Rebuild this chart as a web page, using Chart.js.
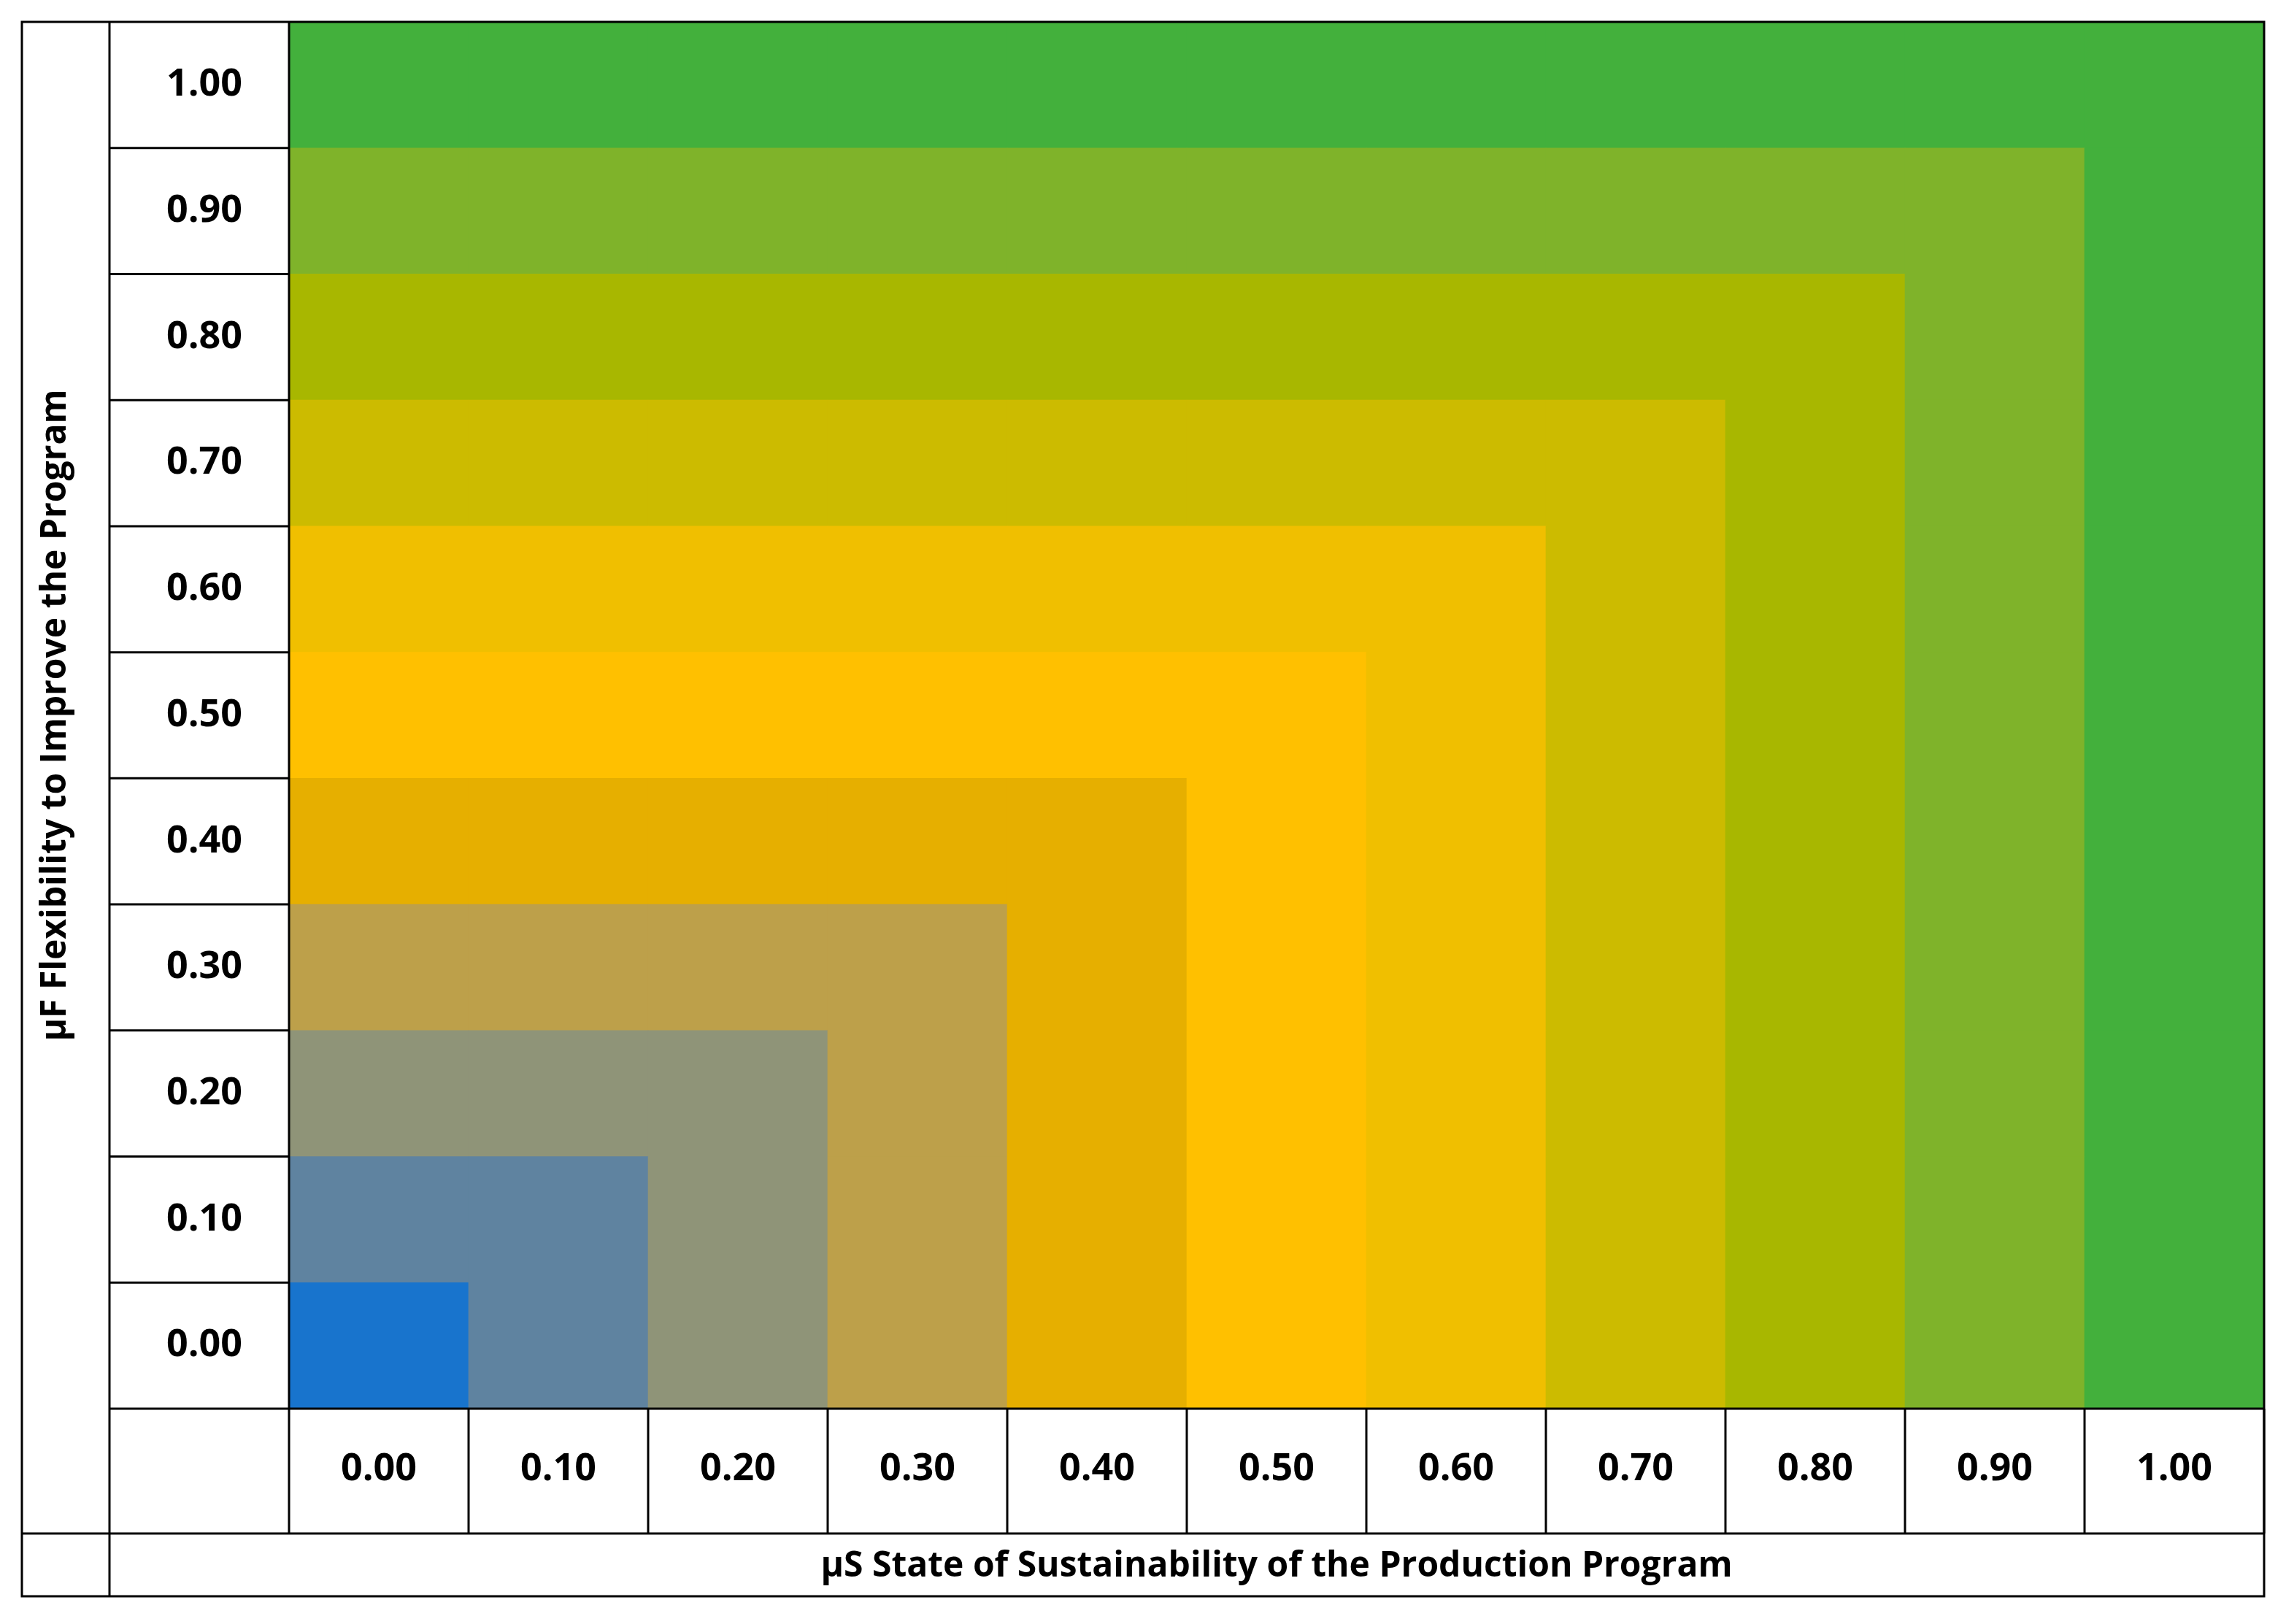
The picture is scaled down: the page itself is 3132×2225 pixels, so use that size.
<!DOCTYPE html>
<html><head><meta charset="utf-8">
<script src="https://cdn.jsdelivr.net/npm/chart.js@4"></script>
<style>html,body{margin:0;background:#fff}#c{display:block}</style>
</head><body>
<div style="width:3132px;height:2225px"><canvas id="c"></canvas></div>
<script>
// categories / ticks
const xLabels = ['0.00','0.10','0.20','0.30','0.40','0.50','0.60','0.70','0.80','0.90','1.00']
const yLabels = ['0.00','0.10','0.20','0.30','0.40','0.50','0.60','0.70','0.80','0.90','1.00']
// one colour per level = max(column, row)
const levelColors = ['#1874CD','#5F83A0','#8F9478','#BDA04A','#E6AF00','#FFC000','#F0BF00','#CCBB00','#A8B700','#7FB32A','#43B03C']
const cellHeight = [1,1,1,1,1,1,1,1,1,1,1]

const L = 30, R = 3102, T = 30, B = 2187, TITLE_W = 120, XROW = 171

const datasets = yLabels.map((y, r) => ({
	label: y,
	data: cellHeight.slice(),
	backgroundColor: xLabels.map((x, c) => levelColors[Math.max(r, c)]),
	borderWidth: 0,
	categoryPercentage: 1,
	barPercentage: 1
}))

const tableLines = {
	id: 'tableLines',
	afterDraw(chart) {
		const ctx = chart.ctx, a = chart.chartArea
		const ys = chart.scales.y
		const colLeft = L + TITLE_W
		ctx.save()
		ctx.strokeStyle = '#000'
		ctx.lineWidth = 3
		const line = (x1, y1, x2, y2) => { ctx.beginPath(); ctx.moveTo(x1, y1); ctx.lineTo(x2, y2); ctx.stroke() }
		ctx.strokeRect(L, T, R - L, B - T)
		line(colLeft, T, colLeft, B)
		line(a.left, T, a.left, a.bottom + XROW)
		line(colLeft, a.bottom, R, a.bottom)
		line(L, a.bottom + XROW, R, a.bottom + XROW)
		for (let k = 1; k < yLabels.length; k++) {
			const y = ys.getPixelForValue(k)
			line(colLeft, y, a.left, y)
		}
		for (let k = 1; k <= xLabels.length; k++) {
			const x = a.left + (a.right - a.left) * k / xLabels.length
			line(x, a.bottom, x, a.bottom + XROW)
		}
		ctx.restore()
	}
}

new Chart(document.getElementById('c').getContext('2d'), {
	type: 'bar',
	data: { labels: xLabels, datasets: datasets },
	options: {
		responsive: true,
		maintainAspectRatio: false,
		animation: false,
		layout: { padding: { left: L, top: T, right: 3132 - R, bottom: 2225 - B } },
		plugins: { legend: { display: false }, tooltip: { enabled: false } },
		scales: {
			x: {
				stacked: true,
				grid: { display: false, drawTicks: false },
				border: { display: false },
				ticks: { color: '#000', font: { family: '"Open Sans", sans-serif', size: 52, weight: 'bold' }, padding: 52, maxRotation: 0 },
				title: { display: true, text: 'µS State of Sustainability of the Production Program', color: '#000',
					font: { family: '"Open Sans", sans-serif', size: 48, weight: 'bold' }, padding: { top: 0, bottom: 12 } },
				afterFit: s => { s.height = B - T - 1900; s.paddingLeft = 0; s.paddingRight = 0 }
			},
			y: {
				stacked: true,
				min: 0, max: 11,
				grid: { display: false, drawTicks: false },
				border: { display: false },
				afterBuildTicks: s => { s.ticks = yLabels.map((l, i) => ({ value: i + 0.5 })) },
				ticks: { color: '#000', font: { family: '"Open Sans", sans-serif', size: 52, weight: 'bold' }, padding: 64,
					callback: (v, i) => yLabels[i] },
				title: { display: true, text: 'µF Flexibility to Improve the Program', color: '#000',
					font: { family: '"Open Sans", sans-serif', size: 48, weight: 'bold' }, padding: { top: 18, bottom: 0 } },
				afterFit: s => { s.width = 366; s.paddingTop = 0; s.paddingBottom = 0 }
			}
		}
	},
	plugins: [tableLines]
});
</script>
</body></html>
